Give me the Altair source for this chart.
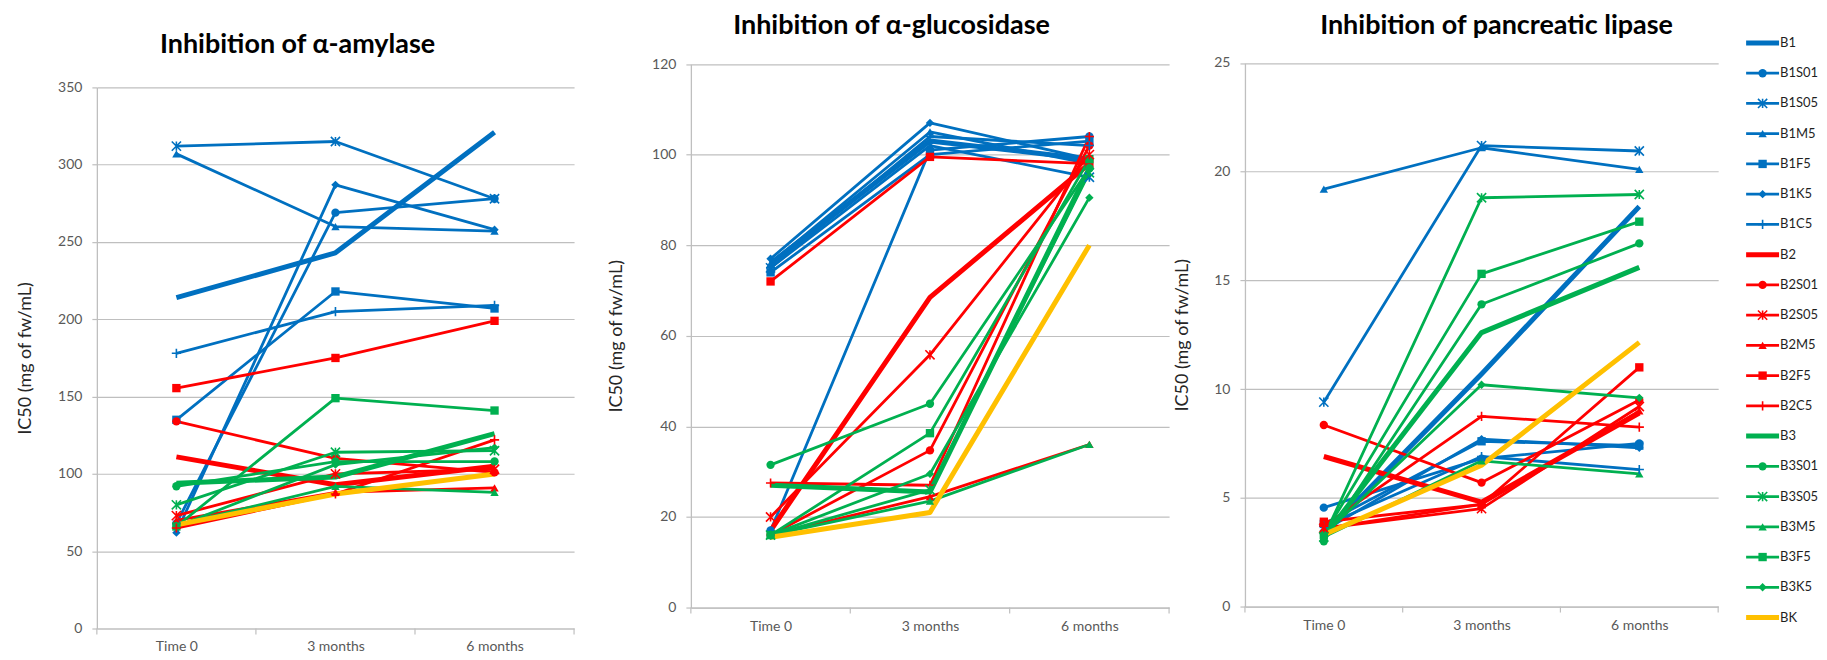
import json
import altair as alt
import pandas as pd

# ---------------- data ----------------
categories = ["Time 0", "3 months", "6 months"]

series = ["B1", "B1S01", "B1S05", "B1M5", "B1F5", "B1K5", "B1C5",
          "B2", "B2S01", "B2S05", "B2M5", "B2F5", "B2C5",
          "B3", "B3S01", "B3S05", "B3M5", "B3F5", "B3K5", "BK"]

series_color = ["#0070C0"] * 7 + ["#FF0000"] * 6 + ["#00B050"] * 6 + ["#FFC000"]

series_marker = ["none", "circle", "star", "triangle", "square", "diamond", "plus",
                 "none", "circle", "star", "triangle", "square", "plus",
                 "none", "circle", "star", "triangle", "square", "diamond",
                 "none"]

amylase = [
    [214, 243, 321], [68, 269, 278], [312, 315, 278], [307, 260, 257],
    [135, 218, 207], [62, 287, 258], [178, 205, 209],
    [111, 93, 105], [134, 110, 101], [73, 100, 103], [70, 88, 91],
    [155.5, 175, 199], [65, 87, 122],
    [94, 98, 126], [92, 108, 108], [80, 114, 115], [67, 92, 88],
    [66, 149, 141], [66, 106, 117],
    [67, 87, 100],
]

glucosidase = [
    [76, 103, 99], [17, 101, 104], [75, 102, 95], [76, 105, 98],
    [74, 100, 103], [77, 107, 99], [75, 104, 102],
    [17, 68.5, 98], [16, 34.7, 102], [20, 55.8, 100], [16, 24.5, 36],
    [72, 99.5, 98], [27.5, 27, 104],
    [27, 25.5, 97], [31.5, 45, 97], [16, 26, 96], [16, 23.5, 36],
    [16, 38.5, 99], [16, 29.5, 90.5],
    [15.5, 21, 80],
]

lipase = [
    [3.3, 10.7, 18.4], [4.55, 6.8, 7.5], [9.4, 21.2, 20.95], [19.2, 21.1, 20.1],
    [3.8, 7.6, 7.4], [3.5, 7.7, 7.3], [3.7, 6.9, 6.3],
    [6.9, 4.8, 8.9], [8.35, 5.7, 9.5], [3.6, 4.5, 9.2], [3.6, 4.7, 9.0],
    [3.9, 4.7, 11.0], [3.7, 8.75, 8.25],
    [3.2, 12.6, 15.6], [3.0, 13.9, 16.7], [3.2, 18.8, 18.95], [3.2, 6.7, 6.1],
    [3.3, 15.3, 17.7], [3.3, 10.2, 9.6],
    [3.3, 6.5, 12.15],
]

titles = ["Inhibition of α-amylase", "Inhibition of α-glucosidase", "Inhibition of pancreatic lipase"]
y_title = "IC50 (mg of fw/mL)"

# ---------------- styling ----------------
GRID = "#BFBFBF"
LABEL = "#595959"
FONT = "Lato"
THICK, THIN = 5, 2.8
FILL_SIZE, STROKE_SIZE = 70, 85
SHAPES = {
    "circle": "circle",
    "triangle": "triangle-up",
    "square": "square",
    "diamond": "diamond",
    "star": "M-1,-1L1,1M-1,1L1,-1M0,-1L0,1",
    "plus": "M-1,0L1,0M0,-1L0,1",
}
FILLED = {"circle", "triangle", "square", "diamond"}


def series_frame():
    rows = []
    for i, s in enumerate(series):
        m = series_marker[i]
        rows.append(dict(series=s, idx=i, color=series_color[i],
                         width=THICK if m == "none" else THIN,
                         marker=m, shp=SHAPES.get(m, "circle"),
                         kind="none" if m == "none" else ("fill" if m in FILLED else "stroke")))
    return pd.DataFrame(rows)


def panel(values, title, ymax, step, view_w, plot_w, view_h, top, ext, tpad, tx, ty, xlabpad=12):
    meta = series_frame()
    rows = []
    for i, s in enumerate(series):
        for j, _c in enumerate(categories):
            r = meta.iloc[i].to_dict()
            r.update(t=j, v=values[i][j])
            rows.append(r)
    df = pd.DataFrame(rows)

    x = alt.X("t:Q",
              scale=alt.Scale(domain=[-0.5, len(categories) - 0.5], range=[0, plot_w], nice=False, zero=False),
              axis=alt.Axis(values=list(range(len(categories))),
                            labelExpr=json.dumps(categories) + "[datum.value]",
                            ticks=False, grid=False, title=None, domainColor=GRID, domainWidth=1.2,
                            labelPadding=xlabpad, labelFontSize=14, labelColor=LABEL, labelFont=FONT))
    y = alt.Y("v:Q",
              scale=alt.Scale(domain=[0, ymax], range=[view_h, top], nice=False, zero=True),
              axis=alt.Axis(values=list(range(0, ymax + 1, step)), grid=True, gridColor=GRID, gridWidth=1.2,
                            domainColor=GRID, domainWidth=1.3, tickColor=GRID, tickSize=5, tickWidth=1.2,
                            labelPadding=10, labelFontSize=14, labelColor=LABEL, labelFont=FONT,
                            minExtent=ext, maxExtent=ext,
                            title=y_title, titleFont=FONT, titleFontSize=18,
                            titleFontWeight="normal", titleColor="#262626", titlePadding=tpad))

    base = alt.Chart(df)
    lines = base.mark_line(strokeJoin="round").encode(
        x=x, y=y,
        color=alt.Color("color:N", scale=None),
        strokeWidth=alt.StrokeWidth("width:Q", scale=None),
        detail="series:N")
    filled = base.transform_filter("datum.kind == 'fill'").mark_point(
        filled=True, size=FILL_SIZE, opacity=1).encode(
        x=x, y=y, color=alt.Color("color:N", scale=None), shape=alt.Shape("shp:N", scale=None))
    stroked = base.transform_filter("datum.kind == 'stroke'").mark_point(
        filled=False, size=STROKE_SIZE, opacity=1, strokeWidth=1.6).encode(
        x=x, y=y, color=alt.Color("color:N", scale=None), shape=alt.Shape("shp:N", scale=None))

    bounds = pd.DataFrame({"t": [k - 0.5 for k in range(len(categories) + 1)]})
    ticks = alt.Chart(bounds).mark_rule(color=GRID, strokeWidth=1.2).encode(
        x=x, y=alt.value(view_h), y2=alt.value(view_h + 6))

    head = alt.Chart(pd.DataFrame({"label": [title]})).mark_text(
        font=FONT, fontSize=27, fontWeight="bold", color="black", align="center", baseline="middle").encode(
        text="label:N", x=alt.value(tx), y=alt.value(ty))

    return alt.layer(ticks, lines, filled, stroked, head).properties(width=view_w, height=view_h)


p1 = panel(amylase, titles[0], 350, 50, 594.5, 478, 587, 45, 40, 22, 201, 3, xlabpad=11)
p2 = panel(glucosidase, titles[1], 120, 20, 554.5, 479, 566, 21.6, 40, 25, 201, -16)
p3 = panel(lipase, titles[2], 25, 5, 493.5, 474, 565, 20.5, 30, 24, 252, -16)

# ---------------- legend ----------------
leg = series_frame()
ly = alt.Y("idx:Q", scale=alt.Scale(domain=[0, len(series) - 1], range=[0.5, 576], nice=False, zero=False), axis=None)
lbase = alt.Chart(leg)
l_lines = lbase.mark_rule().encode(
    x=alt.value(8), x2=alt.value(41), y=ly,
    color=alt.Color("color:N", scale=None),
    strokeWidth=alt.StrokeWidth("width:Q", scale=None))
l_fill = lbase.transform_filter("datum.kind == 'fill'").mark_point(filled=True, size=FILL_SIZE, opacity=1).encode(
    x=alt.value(24.5), y=ly, color=alt.Color("color:N", scale=None), shape=alt.Shape("shp:N", scale=None))
l_stroke = lbase.transform_filter("datum.kind == 'stroke'").mark_point(
    filled=False, size=STROKE_SIZE, opacity=1, strokeWidth=1.6).encode(
    x=alt.value(24.5), y=ly, color=alt.Color("color:N", scale=None), shape=alt.Shape("shp:N", scale=None))
l_text = lbase.mark_text(align="left", baseline="middle", fontSize=13, font=FONT, color="#1f1f1f").encode(
    x=alt.value(42), y=ly, text="series:N")
legend = alt.layer(l_lines, l_fill, l_stroke, l_text).properties(width=80, height=587)

chart = alt.hconcat(p1, p2, p3, legend, spacing=0, bounds="flush").configure_view(
    stroke=None).properties(padding={"left": 9, "top": 4, "right": 0, "bottom": 0})

chart.save("out.html", embed_options={"renderer": "svg", "actions": False})
